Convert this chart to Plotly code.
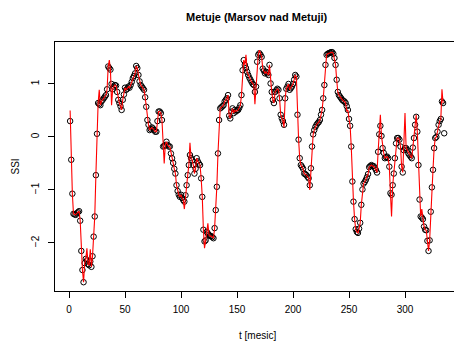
import plotly.graph_objects as go

# Monthly standardized streamflow index, Metuje (Marsov nad Metuji)
months = list(range(1, 336))

ssi_obs = [
    0.30, -0.43, -1.07, -1.45, -1.46, -1.47, -1.44, -1.42, -1.40, -1.58,
    -2.15, -2.51, -2.74, -2.38, -2.30, -2.33, -2.40, -2.42, -2.35, -2.45,
    -2.25, -1.88, -1.50, -0.72, 0.06, 0.64, 0.62, 0.60, 0.67, 0.70,
    0.73, 0.76, 0.79, 0.90, 1.33, 1.30, 1.27, 1.00, 0.90, 0.95,
    0.98, 0.97, 0.85, 0.70, 0.64, 0.58, 0.51, 0.70, 0.80, 0.93,
    0.89, 0.91, 0.95, 0.93, 0.98, 1.04, 1.11, 1.15, 1.20, 1.34,
    1.30, 1.17, 1.05, 0.98, 0.95, 0.92, 0.89, 0.75, 0.57, 0.32,
    0.23, 0.13, 0.15, 0.18, 0.16, 0.13, 0.10, 0.10, 0.30, 0.48,
    0.48, 0.45, 0.32, -0.18, -0.17, -0.15, -0.09, -0.15, -0.18, -0.18,
    -0.31, -0.40, -0.49, -0.60, -0.69, -0.91, -1.02, -1.09, -1.13, -1.09,
    -1.15, -1.19, -1.22, -1.10, -0.91, -0.72, -0.53, -0.34, -0.40, -0.44,
    -0.53, -0.69, -0.60, -0.40, -0.46, -0.50, -0.53, -0.78, -1.13, -1.75,
    -1.97, -1.95, -1.79, -1.82, -1.85, -1.87, -1.87, -1.89, -1.91, -1.72,
    -1.38, -0.94, -0.31, 0.32, 0.54, 0.56, 0.58, 0.60, 0.67, 0.70,
    0.73, 0.79, 0.40, 0.35, 0.48, 0.54, 0.45, 0.51, 0.48, 0.50,
    0.51, 0.55, 0.60, 0.79, 1.26, 1.45, 1.36, 1.30, 1.23, 1.17,
    1.12, 1.08, 1.04, 1.00, 0.98, 0.85, 0.95, 1.42, 1.55, 1.58,
    1.55, 1.51, 1.29, 1.25, 1.20, 1.23, 1.20, 1.17, 1.36, 1.01,
    0.85, 0.70, 0.64, 0.85, 0.88, 0.91, 0.89, 0.73, 0.42, 0.35,
    0.30, 0.23, 0.73, 0.91, 0.95, 1.00, 0.89, 0.92, 0.95, 1.00,
    1.08, 1.17, 1.14, 0.42, -0.05, -0.40, -0.53, -0.56, -0.60, -0.69,
    -0.70, -0.72, -0.75, -0.78, -0.91, -0.59, -0.18, 0.05, 0.13, 0.19,
    0.23, 0.26, 0.28, 0.32, 0.42, 0.51, 0.73, 0.98, 1.36, 1.55,
    1.57, 1.58, 1.59, 1.60, 1.60, 1.57, 1.49, 1.36, 1.08, 0.85,
    0.79, 0.76, 0.73, 0.70, 0.68, 0.67, 0.64, 0.58, 0.51, 0.34,
    0.21, -0.18, -0.84, -1.22, -1.55, -1.74, -1.79, -1.81, -1.73, -1.62,
    -1.28, -0.99, -0.88, -0.85, -0.81, -0.76, -0.70, -0.57, -0.55, -0.53,
    -0.55, -0.55, -0.58, -0.62, -0.67, -0.28, 0.05, 0.21, 0.02, -0.21,
    -0.30, -0.40, -0.38, -0.37, -0.40, -0.56, -1.06, -1.09, -0.91, -0.69,
    -0.40, -0.12, -0.02, -0.02, -0.05, -0.18, -0.56, -0.67, -0.25, -0.21,
    -0.21, -0.25, -0.31, -0.34, -0.37, -0.40, -0.20, -0.02, 0.23, 0.38,
    0.10, -0.53, -1.18, -1.50, -1.52, -1.55, -1.69, -1.75, -1.76, -1.96,
    -2.15, -1.95, -1.41, -0.95, -0.62, -0.21, -0.02, 0.00, 0.10, 0.23,
    0.30, 0.34, 0.67, 0.64, 0.07,
]

# Modelled series: follows the observations except in these months
ssi_model_diff = {
    1: 0.50, 16: -2.10, 19: -2.12, 27: 0.89, 36: 1.45, 38: 0.60,
    85: -0.50, 103: -1.36, 108: -0.11, 121: -2.10, 124: -1.63,
    158: 1.55, 166: 0.62, 170: 1.64, 192: 0.18, 215: -1.00,
    248: 0.48, 278: 0.42, 288: -1.50, 300: 0.45, 310: 0.42,
    315: -1.36, 333: 0.90, 335: None,
}
ssi_model = [ssi_model_diff[t] if t in ssi_model_diff else v
             for t, v in zip(months, ssi_obs)]

x_ticks = [0, 50, 100, 150, 200, 250, 300]
y_ticks = [-2, -1, 0, 1]

font_family = "Liberation Sans, Arial, Helvetica, sans-serif"

fig = go.Figure()
fig.add_trace(go.Scatter(
    x=months, y=ssi_obs, mode="markers",
    marker=dict(symbol="circle-open", size=5.5, color="black",
                line=dict(color="black", width=1)),
    showlegend=False, hoverinfo="skip",
))
fig.add_trace(go.Scatter(
    x=months, y=ssi_model, mode="lines",
    line=dict(color="red", width=1.1),
    connectgaps=False, showlegend=False, hoverinfo="skip",
))

fig.update_layout(
    width=454, height=344,
    margin=dict(l=55, r=0, t=42, b=53),
    paper_bgcolor="white", plot_bgcolor="white",
    font=dict(family=font_family, size=10, color="black"),
    xaxis=dict(
        range=[-12.5, 343.75], tickvals=x_ticks,
        ticktext=[str(v) for v in x_ticks],
        showgrid=False, zeroline=False,
        showline=True, mirror=True, linecolor="black", linewidth=1,
        ticks="outside", ticklen=6, tickwidth=1, tickcolor="black",
        ticklabelstandoff=3,
        tickfont=dict(size=10, family=font_family, color="black"),
    ),
    yaxis=dict(
        range=[-2.906, 1.792], tickvals=y_ticks,
        ticktext=[str(v).replace("-", "\u2212") for v in y_ticks],
        showgrid=False, zeroline=False,
        showline=True, mirror=False, linecolor="black", linewidth=1,
        ticks="outside", ticklen=6, tickwidth=1, tickcolor="black",
        tickangle=-90, ticklabelstandoff=5,
        tickfont=dict(size=10, family=font_family, color="black"),
    ),
    annotations=[
        dict(text="<b>Metuje (Marsov nad Metuji)</b>", xref="paper", yref="paper",
             x=(257 - 55) / 399, y=1, yshift=25, showarrow=False,
             xanchor="center", yanchor="middle",
             font=dict(size=11, family=font_family, color="black")),
        dict(text="t [mesic]", xref="paper", yref="paper",
             x=(257 - 55) / 399, y=0, yshift=-44, showarrow=False,
             xanchor="center", yanchor="middle",
             font=dict(size=10, family=font_family, color="black")),
        dict(text="SSI", xref="paper", yref="paper",
             x=0, xshift=-40, y=0.5, showarrow=False, textangle=-90,
             xanchor="center", yanchor="middle",
             font=dict(size=10, family=font_family, color="black")),
    ],
)

fig.write_html("out.html")
